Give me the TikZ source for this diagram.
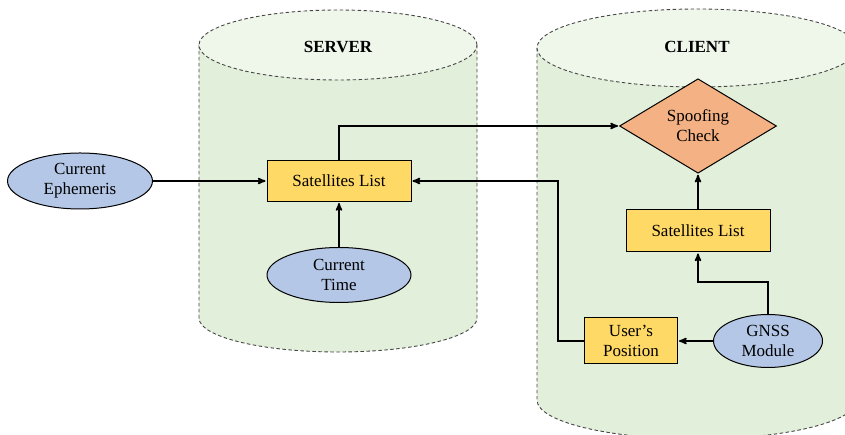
\documentclass[tikz,border=0pt]{standalone}
\usepackage{fontspec}
\setmainfont{Liberation Serif}
\usetikzlibrary{arrows,shapes.geometric,positioning}

\definecolor{cylfill}{RGB}{226,239,218}
\definecolor{cyltop}{RGB}{239,246,234}
\definecolor{cylline}{RGB}{70,70,70}
\definecolor{listfill}{RGB}{255,217,102}
\definecolor{infofill}{RGB}{180,199,231}
\definecolor{checkfill}{RGB}{244,177,131}

\begin{document}
\begin{tikzpicture}[x=1pt,y=1pt,->,>=stealth',shorten >=1pt,auto,line width=1.6pt,
  every node/.style={font=\fontsize{17}{20}\selectfont,align=center,inner sep=0pt},
  list node/.style={rectangle,draw,line width=1pt,fill=listfill,minimum width=144pt,minimum height=41pt},
  info node/.style={ellipse,draw,line width=1pt,fill=infofill,minimum width=145pt,minimum height=56pt},
  check node/.style={diamond,draw,line width=1pt,fill=checkfill,minimum width=157pt,minimum height=65pt},
  cyl line/.style={-,draw=cylline,line width=0.9pt,dash pattern=on 3.5pt off 2.5pt}]

  \useasboundingbox (0,0) rectangle (845,435);
  \clip (0,0) rectangle (845,435);

  % server cylinder
  \fill[cylfill] (199,117) -- (199,390) -- (477,390) -- (477,117)
    arc[start angle=0,end angle=-180,x radius=139,y radius=34] -- cycle;
  \draw[cyl line] (199,390) -- (199,117)
    arc[start angle=180,end angle=360,x radius=139,y radius=34] -- (477,390);
  \filldraw[cyl line,fill=cyltop] (338,390) ellipse[x radius=139,y radius=35];
  \node[font=\fontsize{17}{20}\selectfont\bfseries] (server) at (338,388) {SERVER};

  % client cylinder
  \fill[cylfill] (537,35) -- (537,387) -- (857,387) -- (857,35)
    arc[start angle=0,end angle=-180,x radius=160,y radius=39] -- cycle;
  \draw[cyl line] (537,387) -- (537,35)
    arc[start angle=180,end angle=360,x radius=160,y radius=39] -- (857,387);
  \filldraw[cyl line,fill=cyltop] (697,387) ellipse[x radius=160,y radius=39];
  \node[font=\fontsize{17}{20}\selectfont\bfseries] (client) at (697,388) {CLIENT};

  \node[info node] (eph) at (80,254) {Current\\Ephemeris};
  \node[list node] (slistS) at (339,254) {Satellites List};
  \node[info node,minimum width=144pt,minimum height=55pt] (time) [below of=slistS,node distance=94pt] {Current\\Time};
  \node[list node,minimum height=42pt] (slistC) at (698,204) {Satellites List};
  \node[check node] (spoof) [above of=slistC,node distance=105pt] {Spoofing\\Check};
  \node[info node,minimum width=109pt,minimum height=53pt] (gnss) at (768,94) {GNSS\\Module};
  \node[list node,minimum width=93pt,minimum height=46pt] (userpos) [left of=gnss,node distance=137pt] {User's\\Position};

  \coordinate (gbend) at (698,153);
  \coordinate (ubend) at (558,254);

  \path
    (eph) edge (slistS)
    (time) edge (slistS)
    (slistC) edge (spoof)
    (gnss) edge (userpos);
  \draw (slistS.north) |- (spoof.west);
  \draw (gnss.north) |- (gbend) -- (slistC.south);
  \draw (userpos.west) -| (ubend) -- (slistS.east);
\end{tikzpicture}
\end{document}
